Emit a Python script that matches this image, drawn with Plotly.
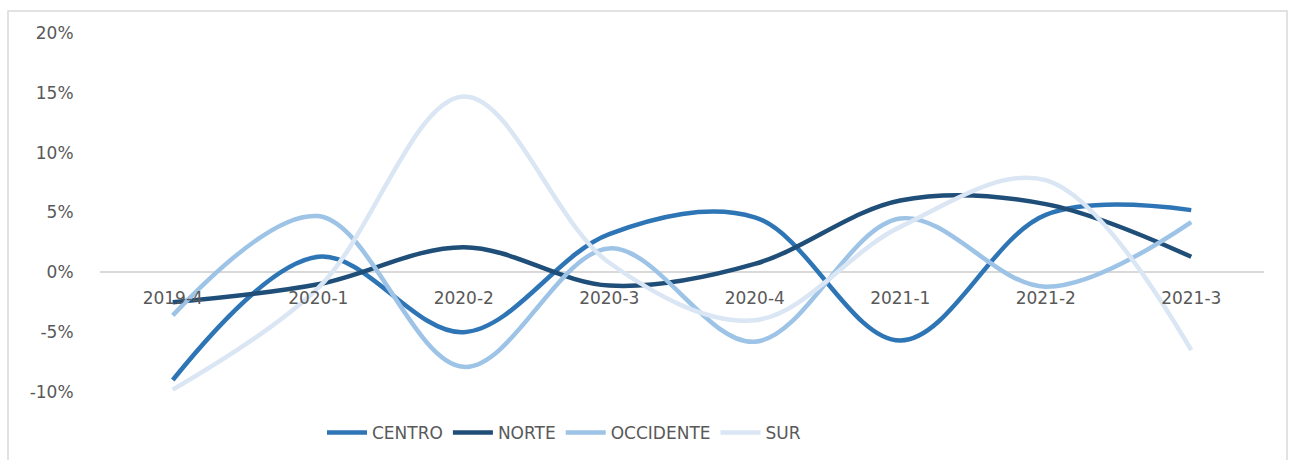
import plotly.graph_objects as go

# Quarterly variation by region
periods = ["2019-4", "2020-1", "2020-2", "2020-3", "2020-4", "2021-1", "2021-2", "2021-3"]
centro = [-0.090, 0.013, -0.050, 0.032, 0.046, -0.057, 0.048, 0.052]
norte = [-0.025, -0.010, 0.021, -0.011, 0.007, 0.060, 0.057, 0.013]
occidente = [-0.036, 0.047, -0.079, 0.020, -0.058, 0.045, -0.012, 0.042]
sur = [-0.098, -0.013, 0.147, 0.008, -0.040, 0.038, 0.077, -0.065]

y_ticks = [-0.10, -0.05, 0, 0.05, 0.10, 0.15, 0.20]
y_tick_labels = ["-10%", "-5%", "0%", "5%", "10%", "15%", "20%"]

series = [
    ("CENTRO", centro, "#2E75B6"),
    ("NORTE", norte, "#1F4E79"),
    ("OCCIDENTE", occidente, "#9DC3E6"),
    ("SUR", sur, "#DAE6F4"),
]

W, H = 1289, 460
ML, MR, MT, MB = 100, 25, 33, 68
PW, PH = W - ML - MR, H - MT - MB

fig = go.Figure()
for name, vals, color in series:
    fig.add_trace(go.Scatter(
        x=periods, y=vals, name=name, mode="lines",
        line=dict(color=color, width=4.5, shape="spline", smoothing=1.0),
    ))

font_family = "DejaVu Sans"
text_color = "#595959"

fig.update_layout(
    width=W, height=H,
    margin=dict(l=ML, r=MR, t=MT, b=MB, autoexpand=False),
    paper_bgcolor="white", plot_bgcolor="white",
    font=dict(family=font_family, size=17, color=text_color),
    showlegend=True,
    legend=dict(
        orientation="h", x=(322 - ML) / PW, xanchor="left",
        yref="container", y=(H - 433) / H, yanchor="middle",
        font=dict(family=font_family, size=17, color=text_color),
        itemwidth=40, tracegroupgap=0,
    ),
    xaxis=dict(
        type="category", range=[-0.5, len(periods) - 0.5],
        showgrid=False, showline=False, zeroline=False, automargin=False,
        ticks="outside", ticklen=10, tickcolor="rgba(0,0,0,0)",
        anchor="free", position=1 / 3,
        tickfont=dict(family=font_family, size=17, color=text_color),
    ),
    yaxis=dict(
        range=[-0.10, 0.20], tickvals=y_ticks, ticktext=y_tick_labels,
        showgrid=False, zeroline=True, automargin=False,
        zerolinecolor="#D9D9D9", zerolinewidth=1.5,
        ticks="outside", ticklen=22, tickcolor="rgba(0,0,0,0)",
        tickfont=dict(family=font_family, size=17, color=text_color),
    ),
    shapes=[
        dict(
            type="rect", xref="paper", yref="paper",
            x0=(8 - ML) / PW, x1=(1287 - ML) / PW,
            y0=(MT + PH - 470) / PH, y1=(MT + PH - 11) / PH,
            line=dict(color="#D9D9D9", width=1.5), fillcolor="rgba(0,0,0,0)",
            layer="below",
        )
    ],
)

fig.write_html("out.html")
